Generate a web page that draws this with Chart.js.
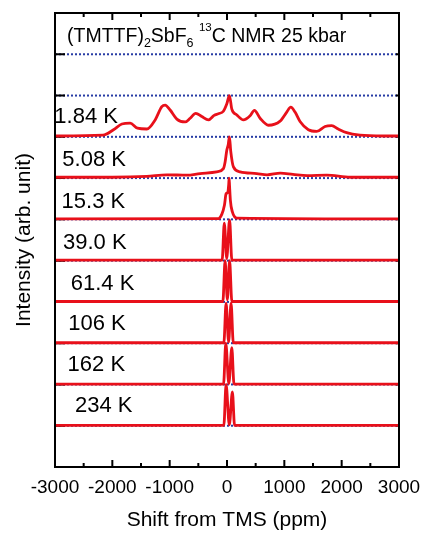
<!DOCTYPE html>
<html>
<head>
<meta charset="utf-8">
<script src="https://cdn.jsdelivr.net/npm/chart.js@4.4.1/dist/chart.umd.min.js"></script>
<style>
    html, body { margin: 0; padding: 0; background: #fff; }
    #wrap { width: 422px; height: 535px; }
</style>
</head>
<body>
<div id="wrap"><canvas id="nmrChart" width="422" height="535"></canvas></div>
<script>
"use strict";

// temperatures and the offset (in units) of each spectrum
var temperatures = ['1.84 K', '5.08 K', '15.3 K', '39.0 K', '61.4 K', '106 K', '162 K', '234 K'];
var offsets = [8, 7, 6, 5, 4, 3, 2, 1];
var dottedLevels = [10, 9, 8, 7, 6, 5, 4, 3, 2, 1];
var xTickValues = [-3000, -2000, -1000, 0, 1000, 2000, 3000];

// spectra: shift (ppm) and normalised intensity
var shift_184K = [-3000, -2164, -1980, -1834, -1689, -1562, -1398, -1253, -1137, -1079, -992, -875, -730, -643, -544, -439, -324, -225, -150, -63, -3, 42, 84, 171, 287, 403, 478, 577, 722, 926, 1042, 1112, 1187, 1274, 1419, 1565, 1710, 1826, 1940, 2086, 2320, 2726, 3000];
var int_184K = [0.02, 0.04, 0.17, 0.31, 0.33, 0.21, 0.19, 0.41, 0.73, 0.77, 0.65, 0.43, 0.36, 0.45, 0.57, 0.49, 0.41, 0.52, 0.56, 0.62, 0.8, 1.0, 0.67, 0.53, 0.41, 0.51, 0.64, 0.45, 0.28, 0.38, 0.6, 0.72, 0.6, 0.37, 0.17, 0.13, 0.25, 0.27, 0.19, 0.1, 0.04, 0.02, 0.02];

var shift_508K = [-3000, -2000, -1400, -1050, -700, -470, -180, -63, -33, -3, 20, 42, 66, 112, 230, 520, 700, 930, 1150, 1400, 1740, 2150, 3000];
var int_508K = [0.02, 0.02, 0.04, 0.08, 0.07, 0.11, 0.15, 0.23, 0.39, 0.68, 0.8, 1.0, 0.64, 0.27, 0.15, 0.11, 0.08, 0.12, 0.09, 0.06, 0.07, 0.02, 0.02];

var shift_153K = [-3000, -150, -91, -45, -16, 15, 30, 37, 45, 59, 94, 171, 3000];
var int_153K = [0.01, 0.02, 0.12, 0.34, 0.62, 0.66, 0.85, 1.0, 0.8, 0.46, 0.18, 0.03, 0.01];

var shift_390K = [-3000, -85, -47, -5, 45, 85, 3000];
var int_390K = [0.01, 0.01, 0.91, 0.05, 0.99, 0.01, 0.01];

var shift_614K = [-3000, -72, -33, 6, 45, 85, 3000];
var int_614K = [0.01, 0.01, 1.0, 0.05, 1.0, 0.01, 0.01];

var shift_106K = [-3000, -55, -16, 28, 71, 110, 3000];
var int_106K = [0.01, 0.01, 0.97, 0.03, 0.97, 0.01, 0.01];

var shift_162K = [-3000, -60, -21, 32, 84, 122, 3000];
var int_162K = [0.01, 0.01, 1.0, 0.02, 0.89, 0.01, 0.01];

var shift_234K = [-3000, -55, -16, 40, 94, 132, 3000];
var int_234K = [0.01, 0.01, 1.0, 0.02, 0.82, 0.01, 0.01];

var shifts = [shift_184K, shift_508K, shift_153K, shift_390K, shift_614K, shift_106K, shift_162K, shift_234K];
var intensities = [int_184K, int_508K, int_153K, int_390K, int_614K, int_106K, int_162K, int_234K];

var fontFamily = '"Liberation Sans", Arial, Helvetica, sans-serif';
var red = 'rgb(232, 16, 26)';
var blue = 'rgb(40, 60, 165)';

var datasets = [];

// red spectra first so they end up drawn on top
temperatures.forEach(function(t, k) {
    datasets.push({
        label: t,
        isTrace: true,
        data: shifts[k].map(function(x, i) {
            return { x: x, y: intensities[k][i] + offsets[k] };
        }),
        borderColor: red,
        borderWidth: 2.8,
        pointRadius: 0,
        cubicInterpolationMode: 'monotone',
        fill: false
    });
});

// dotted blue base lines
dottedLevels.forEach(function(level) {
    datasets.push({
        label: 'base ' + level,
        data: [{ x: -3000, y: level }, { x: 3000, y: level }],
        borderColor: blue,
        borderWidth: 2,
        borderDash: [2, 2],
        pointRadius: 0,
        fill: false
    });
});

// y ticks go under the red spectra but over the blue lines
var yTicksDone = false;
var framePlugin = {
    id: 'frame',
    beforeDatasetsDraw: function() {
        yTicksDone = false;
    },
    beforeDatasetDraw: function(chart, args) {
        if (yTicksDone || !chart.data.datasets[args.index].isTrace) return;
        yTicksDone = true;
        var ctx = chart.ctx;
        var area = chart.chartArea;
        var y = chart.scales.y;
        ctx.save();
        ctx.strokeStyle = '#000';
        ctx.lineWidth = 2;
        dottedLevels.forEach(function(level) {
            var py = y.getPixelForValue(level);
            ctx.beginPath();
            ctx.moveTo(area.left, py);
            ctx.lineTo(area.left + 10, py);
            ctx.moveTo(area.right, py);
            ctx.lineTo(area.right - 3, py);
            ctx.stroke();
        });
        ctx.restore();
    },
    afterDraw: function(chart) {
        var ctx = chart.ctx;
        var area = chart.chartArea;
        var x = chart.scales.x;
        var y = chart.scales.y;
        ctx.save();
        ctx.strokeStyle = '#000';
        ctx.lineWidth = 2;
        ctx.strokeRect(area.left, area.top, area.right - area.left, area.bottom - area.top);

        // inward ticks on bottom and top, minor ones half way
        var majors = x.ticks.map(function(t) { return t.value; });
        majors.forEach(function(v, i) {
            var px = x.getPixelForValue(v);
            ctx.beginPath();
            ctx.moveTo(px, area.bottom);
            ctx.lineTo(px, area.bottom - 7);
            ctx.moveTo(px, area.top);
            ctx.lineTo(px, area.top + 7);
            ctx.stroke();
            if (i < majors.length - 1) {
                var mx = x.getPixelForValue((v + majors[i + 1]) / 2);
                ctx.beginPath();
                ctx.moveTo(mx, area.bottom);
                ctx.lineTo(mx, area.bottom - 4);
                ctx.moveTo(mx, area.top);
                ctx.lineTo(mx, area.top + 4);
                ctx.stroke();
            }
        });

        // temperature labels
        var labelShift = [-0.7, 7.3, 6.6, 8, 15.7, 13.3, 12.6, 20];
        var labelRaise = [14, 12, 11, 12, 12, 13, 13, 14];
        ctx.fillStyle = '#000';
        ctx.font = '22px ' + fontFamily;
        ctx.textBaseline = 'alphabetic';
        ctx.textAlign = 'left';
        temperatures.forEach(function(t, k) {
            ctx.fillText(t, area.left + labelShift[k], y.getPixelForValue(offsets[k]) - labelRaise[k]);
        });

        // title with sub and superscripts
        var parts = [
            { text: '(TMTTF)', size: 19.5, dy: 0 },
            { text: '2', size: 12.5, dy: 5 },
            { text: 'SbF', size: 19.5, dy: 0 },
            { text: '6', size: 12.5, dy: 5 },
            { text: ' ', size: 19.5, dy: 0 },
            { text: '13', size: 11.5, dy: -11 },
            { text: 'C NMR 25 kbar', size: 19.5, dy: 0 }
        ];
        var tx = area.left + 12;
        var ty = area.top + 28.5;
        parts.forEach(function(p) {
            ctx.font = p.size + 'px ' + fontFamily;
            ctx.fillText(p.text, tx, ty + p.dy);
            tx += ctx.measureText(p.text).width;
        });
        ctx.restore();
    }
};

var ctx = document.getElementById('nmrChart').getContext('2d');
var myChart = new Chart(ctx, {
    type: 'line',
    data: {
        datasets: datasets
    },
    options: {
        responsive: false,
        animation: false,
        layout: {
            padding: { top: 13, right: 23, left: 0, bottom: 0 }
        },
        plugins: {
            legend: { display: false },
            tooltip: { enabled: false }
        },
        scales: {
            x: {
                type: 'linear',
                min: -3000,
                max: 3000,
                afterFit: function(scale) {
                    scale.height = 68;
                    scale.paddingLeft = 0;
                    scale.paddingRight = 0;
                },
                afterBuildTicks: function(scale) {
                    scale.ticks = xTickValues.map(function(v) { return { value: v }; });
                },
                grid: { display: false, drawTicks: false },
                border: { display: false },
                ticks: {
                    autoSkip: false,
                    maxRotation: 0,
                    padding: 9,
                    color: '#000',
                    font: { family: fontFamily, size: 19 },
                    callback: function(value) { return String(value); }
                },
                title: {
                    display: true,
                    text: 'Shift from TMS (ppm)',
                    color: '#000',
                    font: { family: fontFamily, size: 21 },
                    padding: { top: 0, bottom: 2 }
                }
            },
            y: {
                type: 'linear',
                min: 0,
                max: 11,
                afterFit: function(scale) { scale.width = 55; },
                grid: { display: false, drawTicks: false },
                border: { display: false },
                ticks: { display: false },
                title: {
                    display: true,
                    text: 'Intensity (arb. unit)',
                    color: '#000',
                    font: { family: fontFamily, size: 21 },
                    padding: { top: 12, bottom: 0 }
                }
            }
        }
    },
    plugins: [framePlugin]
});
</script>
</body>
</html>
